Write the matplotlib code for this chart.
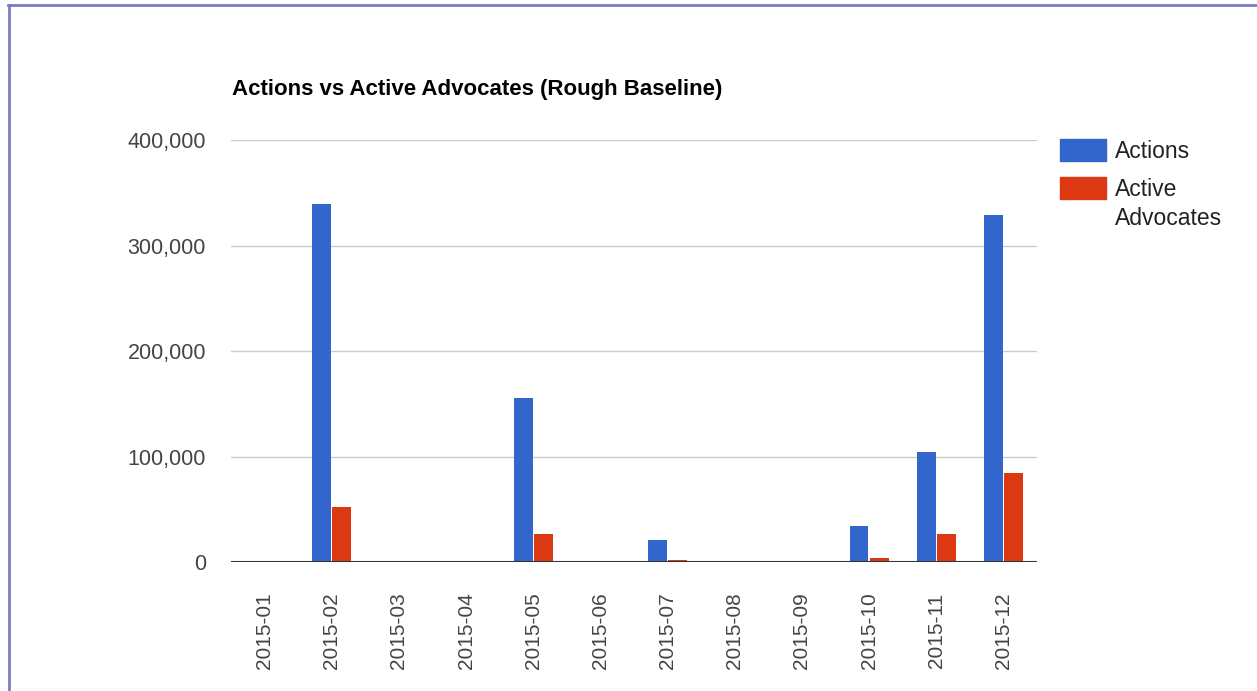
import numpy as np
import matplotlib
matplotlib.use("Agg")
import matplotlib.pyplot as plt
from matplotlib.lines import Line2D
from matplotlib.patches import Rectangle
from matplotlib.ticker import FuncFormatter

# ==================================
# DATA
# ==================================
months = ["2015-01", "2015-02", "2015-03", "2015-04", "2015-05", "2015-06",
          "2015-07", "2015-08", "2015-09", "2015-10", "2015-11", "2015-12"]
actions = [0, 339000, 0, 0, 155000, 0, 21000, 0, 0, 34500, 104500, 329000]
advocates = [0, 52000, 0, 0, 26500, 0, 2000, 0, 0, 4000, 27000, 84500]
series_names = ["Actions", "Active Advocates"]
yticks = [0, 100000, 200000, 300000, 400000]

BLUE = "#3366cc"
RED = "#dc3912"
TICK_COLOR = "#444444"

plt.rcParams["font.family"] = ["Liberation Sans", "DejaVu Sans"]

# ==================================
# PLOT
# ==================================
W, H = 1257, 691
fig = plt.figure(figsize=(W / 100, H / 100), dpi=100)
ax = fig.add_axes([231 / W, 1 - 562 / H, (1037 - 231) / W, (562 - 140) / H])

x = np.arange(len(months))
bw = 0.28
ax.bar(x - 0.15, actions, width=bw, color=BLUE, zorder=3)
ax.bar(x + 0.15, advocates, width=bw, color=RED, zorder=3)

ax.set_xlim(-0.5, len(months) - 0.5)
ax.set_ylim(0, 400000)
ax.set_yticks(yticks)
ax.yaxis.set_major_formatter(FuncFormatter(lambda v, p: f"{int(v):,}"))
ax.set_xticks(x)
ax.set_xticklabels(months, rotation=90)

ax.grid(axis="y", color="#cccccc", linewidth=1, zorder=0)
ax.axhline(0, color="#333333", linewidth=1.5, zorder=4)
for s in ax.spines.values():
    s.set_visible(False)
ax.tick_params(length=0, colors=TICK_COLOR)
ax.tick_params(axis="y", labelsize=15.5, pad=18)
ax.tick_params(axis="x", labelsize=15, pad=22)

fig.text(232 / W, 1 - 90 / H, "Actions vs Active Advocates (Rough Baseline)",
         fontsize=16, fontweight="bold", color="black", va="center", ha="left")

# legend on the right, drawn by hand so the patch sits at the first line
leg_rows = [(series_names[0].split(" "), BLUE, 139),
            (["Active", "Advocates"], RED, 177)]
for words, col, top in leg_rows:
    fig.add_artist(Rectangle((1060 / W, 1 - (top + 22) / H), 46 / W, 22 / H,
                             color=col, transform=fig.transFigure))
    for k, w in enumerate(words):
        fig.text(1115 / W, 1 - (top + 19 + 29 * k) / H, w, fontsize=16.5,
                 color="#222222", va="baseline", ha="left")

# frame lines of the screenshot
border = "#7b7bc4"
fig.add_artist(Line2D([8 / W, 1], [1 - 5 / H, 1 - 5 / H], color=border,
                      linewidth=2, transform=fig.transFigure))
fig.add_artist(Line2D([9 / W, 9 / W], [0, 1 - 5 / H], color=border,
                      linewidth=2, transform=fig.transFigure))

fig.savefig("out.png", dpi=100)
